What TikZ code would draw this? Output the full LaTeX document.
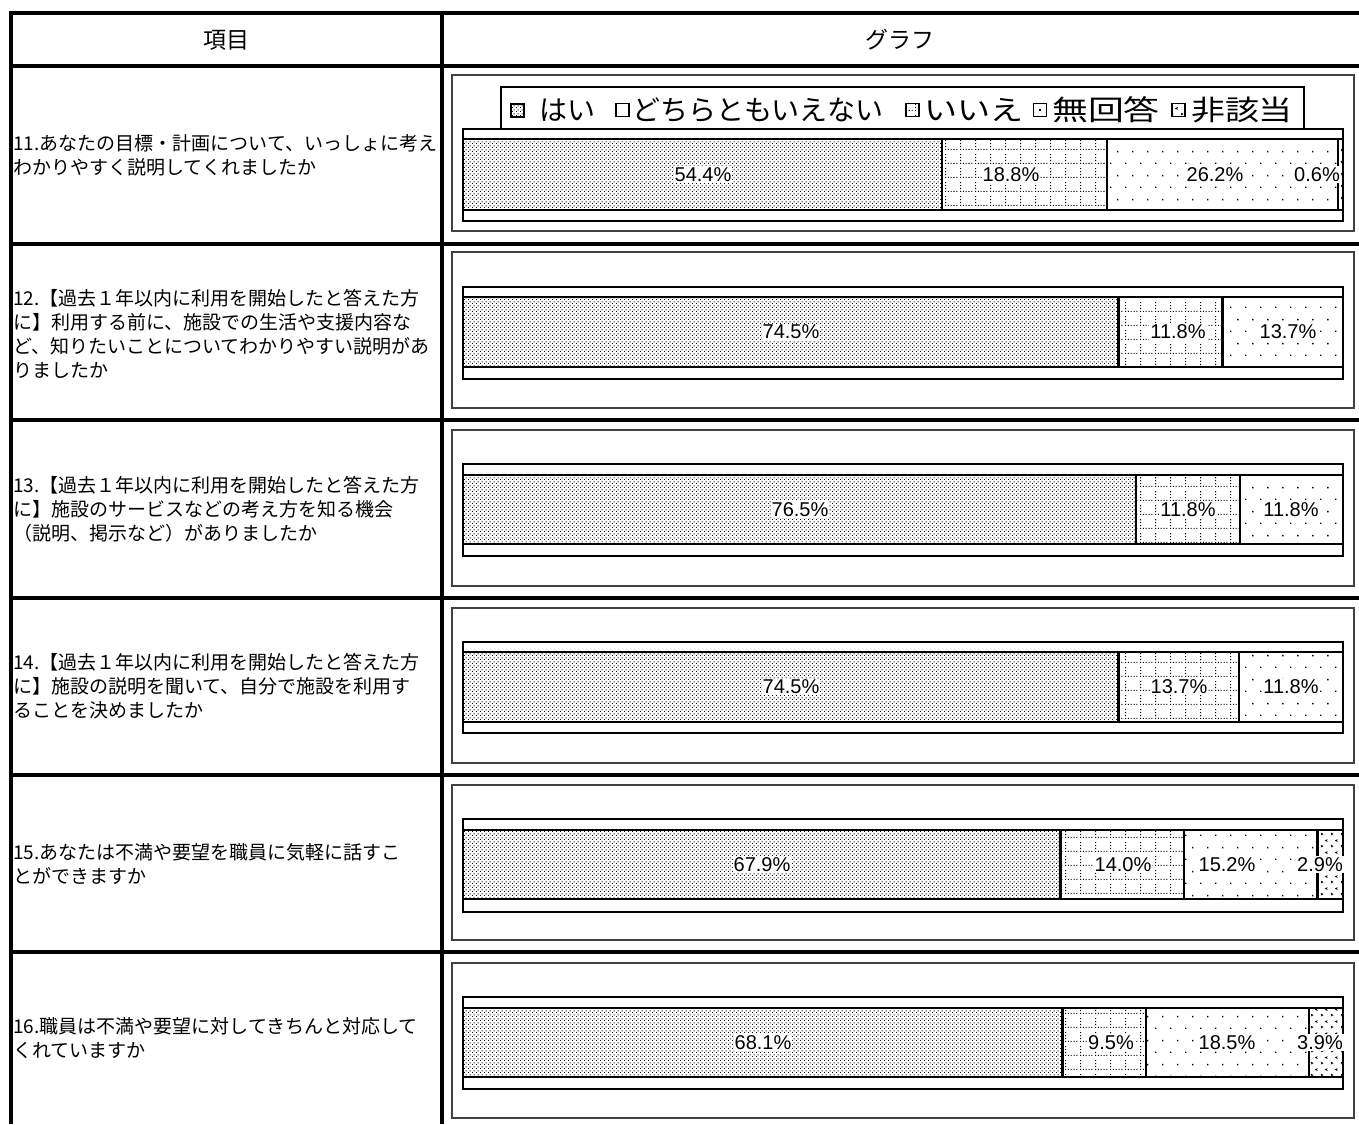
\documentclass[tikz,border=0pt]{standalone}
\usepackage{fontspec}
\usepackage{graphicx}
\setmainfont{Noto Sans CJK JP}
\newfontfamily\pctfont{Liberation Sans}
\usetikzlibrary{patterns}

% fill patterns of the bar segments
\pgfdeclarepatternformonly{yesdots}{\pgfpointorigin}{\pgfpoint{4pt}{4pt}}{\pgfpoint{4pt}{4pt}}{%
  \pgfpathrectangle{\pgfpoint{0pt}{0pt}}{\pgfpoint{1.15pt}{1.15pt}}%
  \pgfpathrectangle{\pgfpoint{2pt}{2pt}}{\pgfpoint{1.15pt}{1.15pt}}%
  \pgfusepath{fill}}
\pgfdeclarepatternformonly{noboxgrid}{\pgfpointorigin}{\pgfpoint{15pt}{13.5pt}}{\pgfpoint{15pt}{13.5pt}}{%
  \foreach \i in {0,3,...,12}{\pgfpathrectangle{\pgfpoint{\i pt}{0pt}}{\pgfpoint{1.1pt}{1.1pt}}\pgfusepath{fill}}%
  \foreach \j in {3,6,9}{\pgfpathrectangle{\pgfpoint{0pt}{\j pt}}{\pgfpoint{1.1pt}{1.1pt}}\pgfusepath{fill}}}
\pgfdeclarepatternformonly{nadots}{\pgfpointorigin}{\pgfpoint{15pt}{24pt}}{\pgfpoint{15pt}{24pt}}{%
  \pgfpathrectangle{\pgfpoint{0pt}{0pt}}{\pgfpoint{1.5pt}{1.5pt}}%
  \pgfpathrectangle{\pgfpoint{7.5pt}{12pt}}{\pgfpoint{1.5pt}{1.5pt}}%
  \pgfusepath{fill}}
\pgfdeclarepatternformonly{nsmarks}{\pgfpointorigin}{\pgfpoint{10pt}{12pt}}{\pgfpoint{10pt}{12pt}}{%
  \pgfsetlinewidth{0.8pt}%
  \pgfpathmoveto{\pgfpoint{1pt}{3pt}}\pgfpathlineto{\pgfpoint{3pt}{2pt}}\pgfpathlineto{\pgfpoint{1pt}{1pt}}%
  \pgfpathmoveto{\pgfpoint{8pt}{9pt}}\pgfpathlineto{\pgfpoint{6pt}{8pt}}\pgfpathlineto{\pgfpoint{8pt}{7pt}}%
  \pgfusepath{stroke}}

\begin{document}
\begin{tikzpicture}[x=1pt,y=1pt,
  tabrule/.style={line width=3.5pt},
  chartbox/.style={draw=black!75,line width=1.2pt},
  plotbox/.style={draw=black,line width=2pt},
  seg/.style={draw=black,line width=2.4pt},
  pct/.style={fill=white,inner sep=1pt,font=\pctfont\fontsize{20}{20}\selectfont},
  qtext/.style={anchor=west,inner sep=0pt,align=left,font=\fontsize{19}{24}\selectfont},
  lgdsym/.style={draw=black,line width=1.5pt,minimum size=13pt,inner sep=0pt},
  lgdtext/.style={anchor=west,inner sep=0pt,font=\fontsize{28}{28}\selectfont}]
\useasboundingbox (0,0) rectangle (1359,-1124);

% table
\draw [tabrule] (11,-1124) -- (11,-13) -- (1359,-13);
\draw [tabrule] (442,-13) -- (442,-1124);
\draw [tabrule] (11,-66) -- (1359,-66);
\draw [tabrule] (11,-244) -- (1359,-244);
\draw [tabrule] (11,-420) -- (1359,-420);
\draw [tabrule] (11,-598) -- (1359,-598);
\draw [tabrule] (11,-775) -- (1359,-775);
\draw [tabrule] (11,-952) -- (1359,-952);
\node [font=\fontsize{23}{23}\selectfont] (hitem) at (226,-40) {項目};
\node [font=\fontsize{23}{23}\selectfont] (hgraph) at (900,-40) {グラフ};

\node [qtext] (q11) at (13,-155) {11.あなたの目標・計画について、いっしょに考え\\わかりやすく説明してくれましたか};
\node [qtext] (q12) at (13,-334) {12.【過去１年以内に利用を開始したと答えた方\\に】利用する前に、施設での生活や支援内容な\\ど、知りたいことについてわかりやすい説明があ\\りましたか};
\node [qtext] (q13) at (13,-509) {13.【過去１年以内に利用を開始したと答えた方\\に】施設のサービスなどの考え方を知る機会\\（説明、掲示など）がありましたか};
\node [qtext] (q14) at (13,-686) {14.【過去１年以内に利用を開始したと答えた方\\に】施設の説明を聞いて、自分で施設を利用す\\ることを決めましたか};
\node [qtext] (q15) at (13,-864) {15.あなたは不満や要望を職員に気軽に話すこ\\とができますか};
\node [qtext] (q16) at (13,-1038) {16.職員は不満や要望に対してきちんと対応して\\くれていますか};

% chart 11
\draw [chartbox] (452,-75) rectangle (1354,-231);
\draw [draw=black,line width=1.2pt,fill=white] (501,-87) rectangle (1304,-129);
\node [lgdsym,line width=2pt,pattern=yesdots] (k1) at (517,-110) {};
\node [lgdtext] (t1) at (539,-110) {はい};
\node [lgdsym] (k2) at (622.5,-110) {};
\node [lgdtext] (t2) at (632,-110) {どちらともいえない};
\node [lgdsym,pattern=noboxgrid] (k3) at (912.5,-110) {};
\node [lgdtext] (t3) at (924,-110) {\scalebox{1.18}[1]{いいえ}};
\node [lgdsym] (k4) at (1040,-110) {};
\fill (1039.3,-110.7) rectangle (1040.7,-109.3);
\node [lgdtext] (t4) at (1052,-110) {\scalebox{1.28}[1]{無回答}};
\node [lgdsym,pattern=nsmarks] (k5) at (1178.5,-110) {};
\node [lgdtext] (t5) at (1191,-110) {\scalebox{1.21}[1]{非該当}};
\draw [plotbox] (463,-129) rectangle (1343,-221);
\draw [seg,pattern=yesdots] (463,-139) rectangle (941.7,-210);
\draw [seg,pattern=noboxgrid] (941.7,-139) rectangle (1107.2,-210);
\draw [seg,pattern=nadots] (1107.2,-139) rectangle (1337.7,-210);
\draw [seg,pattern=nsmarks] (1337.7,-139) rectangle (1343,-210);
\node [pct] (p11a) at (703,-174.5) {54.4\%};
\node [pct] (p11b) at (1011,-174.5) {18.8\%};
\node [pct] (p11c) at (1215,-174.5) {26.2\%};
\node [pct] (p11d) at (1317,-174.5) {0.6\%};

% chart 12
\draw [chartbox] (452,-252) rectangle (1354,-408);
\draw [plotbox] (463,-287) rectangle (1343,-379);
\draw [seg,pattern=yesdots] (463,-297) rectangle (1118.6,-367);
\draw [seg,pattern=noboxgrid] (1118.6,-297) rectangle (1222.4,-367);
\draw [seg,pattern=nadots] (1222.4,-297) rectangle (1343,-367);
\node [pct] (p12a) at (791,-332) {74.5\%};
\node [pct] (p12b) at (1178,-332) {11.8\%};
\node [pct] (p12c) at (1288,-332) {13.7\%};

% chart 13
\draw [chartbox] (452,-430) rectangle (1354,-586);
\draw [plotbox] (463,-464) rectangle (1343,-556);
\draw [seg,pattern=yesdots] (463,-475) rectangle (1136.2,-544);
\draw [seg,pattern=noboxgrid] (1136.2,-475) rectangle (1240,-544);
\draw [seg,pattern=nadots] (1240,-475) rectangle (1343,-544);
\node [pct] (p13a) at (800,-509.5) {76.5\%};
\node [pct] (p13b) at (1188,-509.5) {11.8\%};
\node [pct] (p13c) at (1291,-509.5) {11.8\%};

% chart 14
\draw [chartbox] (452,-608) rectangle (1354,-763);
\draw [plotbox] (463,-642) rectangle (1343,-733);
\draw [seg,pattern=yesdots] (463,-652) rectangle (1118.6,-722);
\draw [seg,pattern=noboxgrid] (1118.6,-652) rectangle (1239.2,-722);
\draw [seg,pattern=nadots] (1239.2,-652) rectangle (1343,-722);
\node [pct] (p14a) at (791,-687) {74.5\%};
\node [pct] (p14b) at (1179,-687) {13.7\%};
\node [pct] (p14c) at (1291,-687) {11.8\%};

% chart 15
\draw [chartbox] (452,-785) rectangle (1354,-940);
\draw [plotbox] (463,-819) rectangle (1343,-912);
\draw [seg,pattern=yesdots] (463,-830) rectangle (1060.5,-899);
\draw [seg,pattern=noboxgrid] (1060.5,-830) rectangle (1183.7,-899);
\draw [seg,pattern=nadots] (1183.7,-830) rectangle (1317.5,-899);
\draw [seg,pattern=nsmarks] (1317.5,-830) rectangle (1343,-899);
\node [pct] (p15a) at (762,-864.5) {67.9\%};
\node [pct] (p15b) at (1123,-864.5) {14.0\%};
\node [pct] (p15c) at (1227,-864.5) {15.2\%};
\node [pct] (p15d) at (1320,-864.5) {2.9\%};

% chart 16
\draw [chartbox] (452,-963) rectangle (1354,-1118);
\draw [plotbox] (463,-997) rectangle (1343,-1089);
\draw [seg,pattern=yesdots] (463,-1008) rectangle (1062.3,-1077);
\draw [seg,pattern=noboxgrid] (1062.3,-1008) rectangle (1145.9,-1077);
\draw [seg,pattern=nadots] (1145.9,-1008) rectangle (1308.7,-1077);
\draw [seg,pattern=nsmarks] (1308.7,-1008) rectangle (1343,-1077);
\node [pct] (p16a) at (763,-1042.5) {68.1\%};
\node [pct] (p16b) at (1111,-1042.5) {9.5\%};
\node [pct] (p16c) at (1227,-1042.5) {18.5\%};
\node [pct] (p16d) at (1320,-1042.5) {3.9\%};
\end{tikzpicture}
\end{document}
